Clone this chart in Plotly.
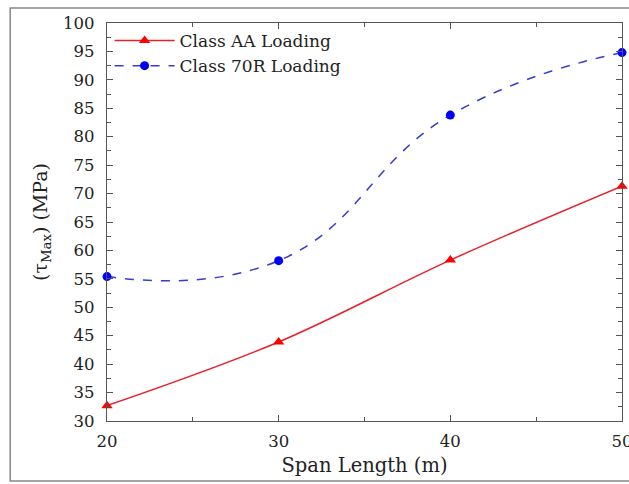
import plotly.graph_objects as go

span = [20, 30, 40, 50]
class_aa = [32.7, 43.9, 58.3, 71.3]
class_70r = [55.4, 58.2, 83.8, 94.8]

FONT = "DejaVu Serif"

fig = go.Figure()
fig.add_trace(go.Scatter(
    x=span, y=class_aa, name="Class AA Loading", mode="lines+markers",
    line=dict(color="#e8202a", width=1.5, shape="spline", smoothing=1.0),
    marker=dict(symbol="triangle-up", size=10, color="#ff0000"),
    cliponaxis=False,
))
fig.add_trace(go.Scatter(
    x=span, y=class_70r, name="Class 70R Loading", mode="lines+markers",
    line=dict(color="#3a3ad0", width=1.5, dash="dash", shape="spline", smoothing=1.3),
    marker=dict(symbol="circle", size=9, color="#0000ff"),
    cliponaxis=False,
))

axis_common = dict(
    showgrid=False, zeroline=False, showline=True, linecolor="#555555", linewidth=1.2,
    mirror="allticks", ticks="inside", ticklen=6, tickcolor="#555555",
    tickfont=dict(family=FONT, size=16.5, color="#222222"),
    automargin=False, ticklabeloverflow="allow",
)

fig.update_xaxes(
    range=[20, 50], tickvals=[20, 30, 40, 50], ticklabelstandoff=5,
    minor=dict(tickvals=[25, 35, 45], ticks="inside", ticklen=4, tickcolor="#555555"),
    title=dict(text="Span Length (m)", font=dict(family=FONT, size=19.5, color="#222222"), standoff=8),
    **axis_common,
)
fig.update_yaxes(
    range=[30, 100], dtick=5, ticklabelstandoff=8,
    minor=dict(dtick=2.5, ticks="inside", ticklen=4, tickcolor="#555555"),
    title=dict(text="(τ<sub>Max</sub>) (MPa)", font=dict(family=FONT, size=19, color="#222222"), standoff=10),
    **axis_common,
)

fig.add_shape(type="rect", xref="paper", yref="paper",
              x0=-0.188, x1=1.02, y0=-0.151, y1=1.038,
              line=dict(color="#888888", width=1.5), layer="below")

fig.update_layout(
    width=629, height=484,
    margin=dict(l=107, r=7, t=23, b=63),
    paper_bgcolor="white", plot_bgcolor="white",
    font=dict(family=FONT, color="#222222"),
    showlegend=True,
    legend=dict(x=0.005, y=1.0, xanchor="left", yanchor="top",
                bgcolor="rgba(0,0,0,0)", font=dict(family=FONT, size=17),
                itemwidth=60, tracegroupgap=0),
)

fig.write_html("out.html", post_script="document.body.style.margin='0';",
               config={"displayModeBar": False})
